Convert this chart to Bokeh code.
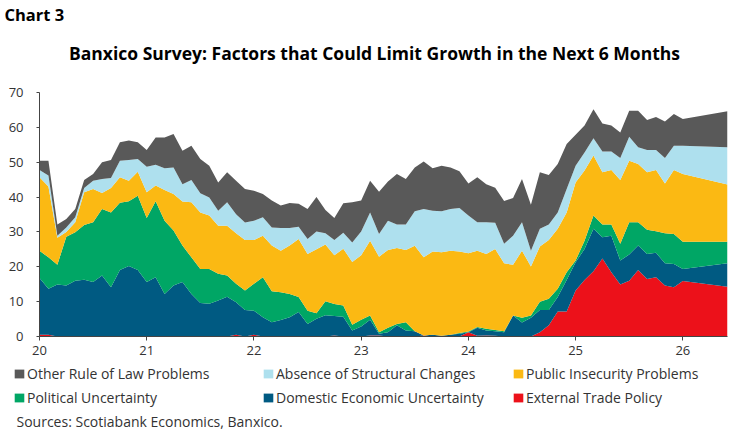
import pandas as pd
from bokeh.plotting import figure
from bokeh.layouts import column
from bokeh.models import (ColumnDataSource, Range1d, FixedTicker, Legend,
                          LegendItem, Label, Plot)
from bokeh.embed import file_html
from bokeh.resources import INLINE

# Survey months (monthly through Jan-2026, then the Jun-2026 reading)
months = list(pd.date_range("2020-01-01", "2026-01-01", freq="MS")) + [pd.Timestamp("2026-06-01")]

# Share of respondents citing each factor (%), stacked bottom to top
external_trade = [0.5, 0.5, 0, 0, 0, 0, 0, 0, 0, 0,
                  0, 0, 0, 0, 0, 0, 0, 0, 0, 0,
                  0, 0, 0.5, 0, 0.5, 0, 0, 0, 0, 0,
                  0, 0, 0, 0.3, 0, 0, 0, 0.3, 0.3, 0,
                  0, 0, 0, 0.3, 0, 0, 0, 0, 1.2, 0.2,
                  0.3, 0.2, 0, 0, 0, 0, 1.2, 3.2, 7.2, 7.2,
                  13.2, 16.2, 18.7, 22.4, 18.4, 14.9, 16.0, 19.1, 16.5, 17.0,
                  14.6, 14.1, 15.9, 14.3]
domestic_econ = [16.3, 13.2, 14.9, 14.6, 16.0, 16.3, 15.6, 17.5, 14.1, 19.1,
                 20.2, 19.1, 15.6, 17.0, 12.2, 14.6, 15.6, 12.2, 9.6, 9.4,
                 10.3, 11.4, 9.3, 7.6, 6.9, 5.5, 4.1, 4.7, 5.5, 7.0,
                 3.6, 5.1, 6.1, 5.6, 5.7, 1.7, 2.9, 4.5, 0.5, 1.2,
                 3.2, 1.7, 1.5, 0, 0.5, 0.2, 0.5, 0.8, 0, 2.3,
                 1.4, 1.3, 1.2, 6.0, 4.0, 5.4, 6.4, 4.4, 4.1, 9.0,
                 8.1, 8.9, 12.2, 6.1, 10.5, 6.9, 7.5, 7.0, 7.2, 7.0,
                 6.4, 6.7, 3.5, 6.7]
political = [7.8, 9.0, 5.7, 14.0, 13.9, 15.7, 17.2, 19.1, 21.5, 19.3,
             18.6, 21.3, 18.4, 21.8, 21.0, 15.8, 10.5, 10.5, 9.8, 10.0,
             7.7, 6.1, 5.3, 5.6, 7.7, 11.5, 8.9, 8.0, 6.7, 4.3,
             3.8, 1.6, 4.0, 3.4, 3.2, 1.7, 1.9, 1.2, 0.4, 1.3,
             0.4, 2.4, 0, 0, 0, 0, 0, 0.2, 0.2, 0.2,
             0.5, 0.4, 0.3, 0, 1.4, 0.6, 2.4, 3.2, 2.4, 2.2,
             0.5, 2.4, 3.8, 3.6, 3.2, 4.8, 9.3, 6.7, 6.9, 6.2,
             8.6, 8.6, 7.8, 6.2]
public_insecurity = [21.1, 20.3, 7.7, 1.4, 2.9, 9.4, 9.5, 4.6, 7.0, 7.3,
                     5.9, 6.9, 7.4, 4.5, 8.8, 10.5, 12.6, 15.8, 16.2, 15.3,
                     13.8, 14.3, 14.5, 14.5, 12.6, 11.9, 13.1, 11.9, 13.9, 16.7,
                     16.3, 18.3, 16.3, 14.0, 16.3, 18.0, 18.5, 21.5, 21.7, 22.3,
                     21.8, 20.7, 24.5, 22.4, 23.9, 24.0, 24.1, 23.4, 22.5, 21.9,
                     21.5, 23.2, 19.5, 14.6, 19.2, 14.1, 15.8, 16.9, 17.2, 17.2,
                     22.4, 20.1, 17.2, 15.0, 15.7, 18.3, 17.6, 16.7, 16.5, 17.6,
                     14.3, 18.4, 19.4, 16.4]
structural = [2.1, 3.2, 0.6, 1.3, 1.4, 1.2, 2.4, 4.0, 2.9, 4.7,
              5.9, 3.6, 7.3, 6.0, 6.3, 7.6, 5.0, 6.4, 5.5, 5.2,
              4.3, 6.7, 5.5, 5.0, 5.5, 5.3, 5.2, 6.5, 5.0, 3.5,
              4.3, 5.1, 3.2, 4.4, 4.6, 5.6, 6.8, 8.1, 6.5, 8.4,
              6.7, 7.3, 9.9, 13.9, 11.7, 11.7, 12.0, 12.5, 10.8, 8.2,
              9.1, 7.5, 5.6, 8.3, 8.2, 4.5, 5.1, 4.4, 4.7, 6.7,
              4.8, 5.2, 5.0, 6.0, 5.3, 6.3, 6.9, 4.8, 6.4, 5.7,
              7.3, 6.9, 8.1, 10.7]
rule_of_law = [2.6, 4.2, 3.2, 2.4, 2.4, 2.3, 1.9, 4.8, 5.1, 5.3,
               5.6, 4.8, 4.8, 7.8, 8.8, 9.6, 9.6, 9.8, 9.8, 9.1,
               8.1, 8.6, 9.6, 9.6, 8.6, 6.7, 7.7, 6.5, 7.2, 6.6,
               8.6, 9.9, 6.7, 6.3, 8.4, 11.5, 8.9, 9.1, 12.1, 11.3,
               14.5, 13.1, 12.6, 13.6, 12.2, 13.1, 11.9, 10.5, 9.2, 12.9,
               10.9, 10.1, 12.3, 10.8, 12.4, 13.2, 16.2, 14.2, 13.9, 12.9,
               8.9, 7.7, 8.3, 8.0, 7.4, 7.3, 7.5, 10.5, 8.6, 9.5,
               10.5, 9.1, 7.7, 10.3]

series_names = ["External Trade Policy", "Domestic Economic Uncertainty",
                "Political Uncertainty", "Public Insecurity Problems",
                "Absence of Structural Changes", "Other Rule of Law Problems"]
series_colors = ["#EC111A", "#005A82", "#00A665", "#FBB913", "#AEE0EE", "#595959"]
year_ticks = [20, 21, 22, 23, 24, 25, 26]
y_ticks = [0, 10, 20, 30, 40, 50, 60, 70]

FONT = "Open Sans"
TEXT = "#333333"
W = 748
HAS_FRAME_ALIGN = "frame_align" in Plot.properties()


def unaligned(f):
    # keep each strip's frame to its own borders inside the column
    if HAS_FRAME_ALIGN:
        f.frame_align = False
    return f


def blank(height):
    """A plain drawing strip whose data units are pixels (y grows downward)."""
    f = figure(width=W, height=height, output_backend="svg", toolbar_location=None,
               x_range=Range1d(0, W), y_range=Range1d(height, 0),
               x_axis_location=None, y_axis_location=None,
               min_border=0, min_border_left=0, min_border_right=0,
               min_border_top=0, min_border_bottom=0)
    f.outline_line_color = None
    f.grid.visible = False
    return unaligned(f)


# ---- header: chart number and title
header = blank(82)
header.add_layout(Label(x=4, y=14, text="Chart 3", text_font=FONT,
                        text_font_style="bold", text_font_size="16.5px",
                        text_color="black", text_baseline="middle", text_align="left"))
header.add_layout(Label(x=374, y=52.5,
                        text="Banxico Survey: Factors that Could Limit Growth in the Next 6 Months",
                        text_font=FONT, text_font_style="bold", text_font_size="17.5px",
                        text_color="black", text_baseline="middle", text_align="center"))

# ---- stacked area chart
x = [(d.year - 2000) + (d.month - 1) / 12 for d in months]
keys = ["trade", "domestic", "political", "insecurity", "structural", "rule"]
source = ColumnDataSource(dict(x=x, trade=external_trade, domestic=domestic_econ,
                               political=political, insecurity=public_insecurity,
                               structural=structural, rule=rule_of_law))

p = figure(width=W, height=281, output_backend="svg", toolbar_location=None,
           x_range=Range1d(x[0], x[-1]), y_range=Range1d(0, 70),
           min_border_left=39, min_border_right=21, min_border_top=10,
           min_border_bottom=27)
unaligned(p)
p.outline_line_color = None
p.grid.visible = False

p.varea_stack(stackers=keys, x="x", color=series_colors, source=source)

for ax in (p.xaxis[0], p.yaxis[0]):
    ax.axis_line_color = "#444444"
    ax.axis_line_width = 1
    ax.major_tick_line_color = "#444444"
    ax.major_tick_in = 0
    ax.minor_tick_line_color = None
    ax.major_label_text_font = FONT
    ax.major_label_text_font_size = "13px"
    ax.major_label_text_color = TEXT

p.xaxis.ticker = FixedTicker(ticks=year_ticks)
p.xaxis.major_tick_out = 4
p.xaxis.major_label_standoff = 5
p.yaxis.ticker = FixedTicker(ticks=y_ticks)
p.yaxis.major_tick_out = 3
p.yaxis.major_label_standoff = 13

# ---- footer: legend in three columns of two entries, then the source line
footer = blank(69)
swatch = {}
for name, color in zip(series_names, series_colors):
    # swatch glyphs sit outside the visible range; only their legend entries show
    swatch[name] = footer.quad(left=[-30], right=[-20], top=[-30], bottom=[-20],
                               fill_color=color, line_color=None)
columns = [["Other Rule of Law Problems", "Political Uncertainty"],
           ["Absence of Structural Changes", "Domestic Economic Uncertainty"],
           ["Public Insecurity Problems", "External Trade Policy"]]
col_left = [13, 262, 512]
for names, left in zip(columns, col_left):
    leg = Legend(items=[LegendItem(label=n, renderers=[swatch[n]]) for n in names],
                 location=(left, 25), orientation="vertical",
                 glyph_width=12, glyph_height=11, label_standoff=2,
                 spacing=5, padding=0, margin=0, label_height=16,
                 label_text_font=FONT, label_text_font_size="14px",
                 label_text_color=TEXT, border_line_alpha=0,
                 background_fill_alpha=0)
    footer.add_layout(leg, "center")
footer.add_layout(Label(x=16, y=58, text="Sources: Scotiabank Economics, Banxico.",
                        text_font=FONT, text_font_size="14px", text_color=TEXT,
                        text_baseline="middle", text_align="left"))

page = column(header, p, footer, spacing=0)
open("out.html", "w").write(file_html(page, INLINE))
